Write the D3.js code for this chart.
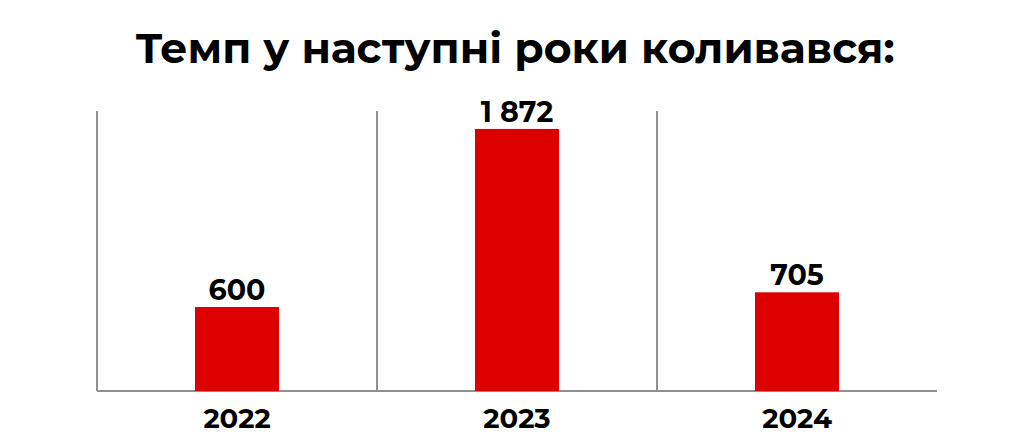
<!DOCTYPE html>
<html><head><meta charset="utf-8">
<script src="https://cdn.jsdelivr.net/npm/d3@7"></script>
<style>
body{margin:0;background:#fff;}
svg{display:block;}
text{font-family:Montserrat,Inter,"Open Sans",sans-serif;font-weight:700;fill:#000;}
</style></head>
<body>
<svg id="chart" width="1024" height="438"></svg>
<script>
const title = "Темп у наступні роки коливався:";
const years = ["2022","2023","2024"];
const values = [600, 1872, 705];
const valueLabels = ["600","1 872","705"];
const yMax = 2000;

const svg = d3.select("#chart");
const x = d3.scaleBand().domain(years).range([97, 937]).paddingInner(0.7).paddingOuter(0.35);
const y = d3.scaleLinear().domain([0, yMax]).range([391, 111]);

svg.append("text").attr("x", 515).attr("y", 63).attr("text-anchor","middle")
  .attr("font-size", 42.5).text(title);

// vertical dividers
const step = x.step();
const dividers = years.map(d => x(d) - x.paddingOuter()*step);
svg.selectAll("line.div").data(dividers).join("line")
  .attr("x1", d=>d).attr("x2", d=>d).attr("y1", y(yMax)).attr("y2", y(0))
  .attr("stroke","#8f8f8f").attr("stroke-width",2);
svg.append("line").attr("x1",97).attr("x2",937).attr("y1",y(0)).attr("y2",y(0))
  .attr("stroke","#8f8f8f").attr("stroke-width",2);

svg.selectAll("rect.bar").data(years).join("rect")
  .attr("x", d=>x(d)).attr("width", x.bandwidth())
  .attr("y", (d,i)=>y(values[i])).attr("height",(d,i)=>y(0)-y(values[i]))
  .attr("fill","#dd0000");

svg.selectAll("text.val").data(years).join("text")
  .attr("x", d=>x(d)+x.bandwidth()/2).attr("y",(d,i)=>y(values[i])-7)
  .attr("text-anchor","middle").attr("font-size",28.5).text((d,i)=>valueLabels[i]);

svg.selectAll("text.year").data(years).join("text")
  .attr("x", d=>x(d)+x.bandwidth()/2).attr("y", 428)
  .attr("text-anchor","middle").attr("font-size",27.5).text(d=>d);
</script>
</body></html>
